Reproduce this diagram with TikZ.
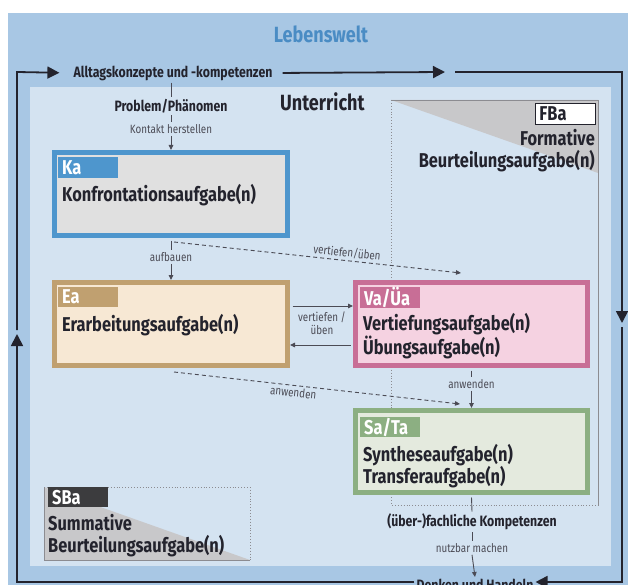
\documentclass[tikz,border=0pt]{standalone}
\usepackage{fontspec}
\setmainfont{Fira Sans}[FakeStretch=0.82]
\usetikzlibrary{arrows.meta, positioning, calc}
\definecolor{lwblue}{RGB}{168,199,228}
\definecolor{lwtext}{RGB}{74,140,196}
\definecolor{ufill}{RGB}{212,227,241}
\definecolor{ink}{RGB}{35,35,45}
\definecolor{linegray}{RGB}{75,75,85}
\definecolor{framegray}{RGB}{140,140,145}
\definecolor{trigray}{RGB}{200,200,202}
\definecolor{kablue}{RGB}{78,150,205}
\definecolor{kafill}{RGB}{224,224,224}
\definecolor{eatan}{RGB}{192,160,112}
\definecolor{eafill}{RGB}{247,232,212}
\definecolor{vapink}{RGB}{200,110,150}
\definecolor{vafill}{RGB}{245,210,225}
\definecolor{sagreen}{RGB}{140,175,130}
\definecolor{safill}{RGB}{228,234,222}
\definecolor{sbadark}{RGB}{60,60,62}
\tikzset{
>={Triangle[length=5pt,width=4.5pt]},
loopline/.style={draw=ink, line width=1.8pt, >={Triangle[length=12pt,width=12pt]}},
conn/.style={draw=linegray, line width=0.9pt},
dashconn/.style={conn, dash pattern=on 4pt off 3pt},
taskbox/.style={line width=5pt, minimum width=233pt, minimum height=83pt, inner sep=0pt},
tagbox/.style={anchor=north west, minimum height=20pt, text width=52pt, inner xsep=4pt, inner ysep=0pt, text=white, font=\bfseries\fontsize{20}{22}\selectfont},
title/.style={anchor=west, align=left, inner sep=0pt, text=ink, font=\bfseries\fontsize{20}{22}\selectfont},
medtext/.style={inner sep=2pt, text=ink, font=\bfseries\fontsize{15}{17}\selectfont},
smalltext/.style={inner sep=2pt, text=linegray, font=\fontsize{12}{13.5}\selectfont},
}
\begin{document}
\begin{tikzpicture}[x=1pt,y=-1pt]
    \clip (0,0) rectangle (628,585);
    % Lebenswelt
    \fill[lwblue] (8,13) rectangle (640,600);
    \node[inner sep=0pt, text=lwtext, font=\bfseries\fontsize{22}{24}\selectfont] (lebenswelt) at (321,34) {Lebenswelt};
    % Unterricht
    \fill[ufill] (30,87) rectangle (611,566);
    \node[title, font=\bfseries\fontsize{22}{24}\selectfont] (unterricht) at (280,102) {Unterricht};
    % formative frame
    \fill[trigray] (391,100) -- (598,100) -- (598,173) -- cycle;
    \draw[framegray, line width=0.9pt] (391,100) -- (598,100) -- (598,505);
    \draw[framegray, dotted, line width=0.9pt] (391,100) -- (391,505) -- (598,505);
    \node[tagbox, fill=white, draw=ink, line width=0.8pt, text=ink, minimum height=21pt] (fba-tag) at (535,103) {FBa};
    \node[title, anchor=east, align=right] (fba-title) at (595,151) {Formative\\Beurteilungsaufgabe(n)};
    % summative frame
    \fill[trigray] (44,487) -- (250,560) -- (44,560) -- cycle;
    \draw[framegray, line width=0.9pt] (44,487) -- (44,560) -- (250,560);
    \draw[framegray, dotted, line width=0.9pt] (44,487) -- (250,487) -- (250,560);
    \node[tagbox, fill=sbadark] (sba-tag) at (48,487) {SBa};
    \node[title] (sba-title) at (48,536) {Summative\\Beurteilungsaufgabe(n)};
    % tasks
    \node[taskbox, draw=kablue, fill=kafill] (ka) at (171,194) {};
    \node[tagbox, fill=kablue, minimum height=21pt] (ka-tag) at (58,157) {Ka};
    \node[title] (ka-title) at (62,195) {Konfrontationsaufgabe(n)};
    \node[taskbox, draw=eatan, fill=eafill] (ea) at (171,324) {};
    \node[tagbox, fill=eatan] (ea-tag) at (58,287) {Ea};
    \node[title] (ea-title) at (62,325) {Erarbeitungsaufgabe(n)};
    \node[taskbox, draw=vapink, fill=vafill, minimum width=232pt] (va) at (471.5,324) {};
    \node[tagbox, fill=vapink] (va-tag) at (360,287) {Va/Üa};
    \node[title] (va-title) at (363,336) {Vertiefungsaufgabe(n)\\Übungsaufgabe(n)};
    \node[taskbox, draw=sagreen, fill=safill, minimum width=232pt, minimum height=82pt] (sa) at (471.5,451.5) {};
    \node[tagbox, fill=sagreen] (sa-tag) at (360,417) {Sa/Ta};
    \node[title] (sa-title) at (363,466) {Syntheseaufgabe(n)\\Transferaufgabe(n)};
    % texts on the way
    \node[medtext] (alltag) at (173,73) {Alltagskonzepte und -kompetenzen};
    \node[medtext] (problem) at (171,106) {Problem/Phänomen};
    \node[smalltext] (kontakt) at (171,129) {Kontakt herstellen};
    \node[smalltext] (aufbauen) at (171,257) {aufbauen};
    \node[smalltext, align=center] (ueben) at (322,323) {vertiefen /\\üben};
    \node[smalltext] (anwenden) at (471.5,384) {anwenden};
    \node[medtext] (fachlich) at (472,522) {(über-)fachliche Kompetenzen};
    \node[smalltext] (nutzbar) at (472,548) {nutzbar machen};
    \node[medtext] (denken) at (475,585) {Denken und Handeln};
    \coordinate (va-in) at (461,273);
    \coordinate (sa-in) at (460,404);
    % connectors
    \draw[conn] (problem.north |- alltag.south) -- (problem.north);
    \draw[conn] (problem.south) -- (kontakt.north);
    \draw[conn,->] (kontakt.south) -- (ka.north);
    \draw[conn] (ka.south) ++(0,2.5) -- (aufbauen.north);
    \draw[conn,->] (aufbauen.south) -- (ea.north);
    \draw[dashconn,->] (ka.south) ++(3,4) -- (va-in) node[pos=0.6, above, sloped, smalltext] {vertiefen/üben};
    \draw[conn,->] ([yshift=18pt]ea.east) ++(2.5,0) -- ([yshift=18pt]va.west);
    \draw[conn,->] ([yshift=-21pt]va.west) ++(-2.5,0) -- ([yshift=-21pt]ea.east);
    \draw[conn] (va.south) ++(0,2.5) -- (anwenden.north);
    \draw[conn,->] (anwenden.south) -- (sa.north);
    \draw[dashconn,->] (ea.south) ++(3,4) -- (sa-in) node[pos=0.42, below, sloped, smalltext] {anwenden};
    \draw[conn] (sa.south) ++(0,2.5) -- (fachlich.north);
    \draw[conn] (fachlich.south) -- (nutzbar.north);
    \draw[conn,->] (nutzbar.south) -- (denken.north);
    % Lebenswelt loop
    \coordinate (lw-tl) at (17,72);
    \coordinate (lw-tr) at (622,72);
    \coordinate (lw-br) at (622,582);
    \coordinate (lw-bl) at (17,582);
    \coordinate (top-tip) at (445,72);
    \coordinate (top-go) at (455,72);
    \coordinate (right-tip) at (622,323);
    \coordinate (right-go) at (622,327);
    \coordinate (left-tip) at (17,334);
    \coordinate (left-go) at (17,330);
    \draw[loopline,->,shorten >=12pt] (left-go) -- (lw-tl) -- (alltag.west);
    \draw[loopline,->,shorten <=8pt] (alltag.east) -- (top-tip);
    \draw[loopline,->] (top-go) -- (lw-tr) -- (right-tip);
    \draw[loopline,->] (right-go) -- (lw-br) -- (denken.east |- lw-br);
    \draw[loopline,->] (denken.west |- lw-br) -- (lw-bl) -- (left-tip);
\end{tikzpicture}
\end{document}
